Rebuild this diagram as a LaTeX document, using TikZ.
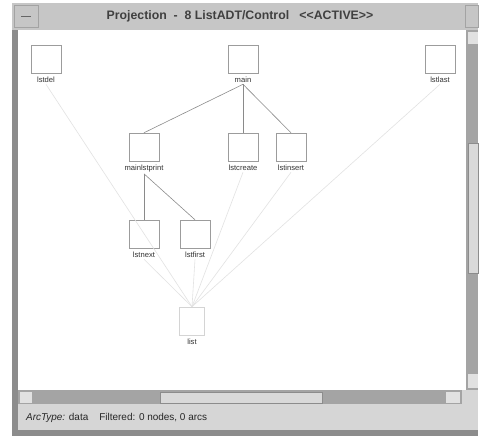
\documentclass[tikz,border=0pt]{standalone}
\usepackage{fontspec}
\setmainfont{Liberation Sans}
\usetikzlibrary{positioning}
\definecolor{wframe}{HTML}{8c8c8c}
\definecolor{wbar}{HTML}{c6c6c6}
\definecolor{wstatus}{HTML}{d6d6d6}
\definecolor{trough}{HTML}{a4a4a4}
\definecolor{thumb}{HTML}{d9d9d9}
\definecolor{boxgray}{HTML}{9c9c9c}
\definecolor{callgray}{HTML}{8a8a8a}
\definecolor{datagray}{HTML}{e2e2e2}

\begin{document}
\begin{tikzpicture}[x=0.3mm, y=-0.3mm,
  fbox/.style={rectangle, draw=boxgray, fill=white, minimum width=9mm,
               minimum height=8.4mm, inner sep=0pt},
  faint/.style={fbox, draw=datagray!80!boxgray, minimum width=7.5mm},
  flabel/.style={font=\fontsize{6.5}{7}\selectfont, text=black!80, inner sep=1pt},
  call/.style={draw=callgray, line width=0.5pt},
  data/.style={draw=datagray, line width=0.5pt},
]
  \useasboundingbox (0,0) rectangle (480,438);
  \fill[white] (0,0) rectangle (480,438);

  % window frame
  \fill[wbar] (12,3) rectangle (478,30);
  \draw[wframe!80] (14,5) rectangle (38,27);
  \draw[black!60, line width=0.8pt] (21,16) -- (31,16);
  \draw[wframe!80] (465,5) rectangle (478,27);
  \node[font=\bfseries\fontsize{10.5}{12}\selectfont, text=black!75] (title) at (240,16)
    {Projection\ \ -\ \ 8 ListADT/Control\ \ \ {<}{<}ACTIVE{>}{>}};
  \fill[wframe] (12,30) rectangle (18,436);
  \fill[wframe] (12,430) rectangle (478,436);
  \fill[wstatus] (18,404) rectangle (478,430);
  \node[anchor=west, font=\fontsize{8.5}{10}\selectfont, text=black!85] (status) at (22,418)
    {\textit{ArcType:} data\ \ \ \ Filtered: 0 nodes, 0 arcs};

  % scrollbars
  \fill[trough] (466,30) rectangle (478,390);
  \fill[thumb] (468,143) rectangle (478,273);
  \draw[black!45] (468,143) rectangle (478,273);
  \fill[thumb!80] (468,32) rectangle (478,44);
  \fill[thumb!80] (468,374) rectangle (478,388);
  \fill[trough] (18,390) rectangle (462,404);
  \fill[thumb] (160,392) rectangle (322,403);
  \draw[black!45] (160,392) rectangle (322,403);
  \fill[thumb!80] (20,392) rectangle (32,403);
  \fill[thumb!80] (446,392) rectangle (460,403);
  \fill[wstatus] (462,390) rectangle (478,404);

  % functions
  \node[fbox] (lstdel)       at (46,59)   {};
  \node[fbox] (main)         at (243,59)  {};
  \node[fbox] (lstlast)      at (440,59)  {};
  \node[fbox] (mainlstprint) at (144,147) {};
  \node[fbox] (lstcreate)    at (243,147) {};
  \node[fbox] (lstinsert)    at (291,147) {};
  \node[fbox] (lstnext)      at (144,234) {};
  \node[fbox] (lstfirst)     at (195,234) {};
  \node[faint] (list)        at (192,321) {};

  \node[flabel, below=0.8mm of lstdel]       (lstdelT)       {lstdel};
  \node[flabel, below=0.8mm of main]         (mainT)         {main};
  \node[flabel, below=0.8mm of lstlast]      (lstlastT)      {lstlast};
  \node[flabel, below=0.8mm of mainlstprint] (mainlstprintT) {mainlstprint};
  \node[flabel, below=0.8mm of lstcreate]    (lstcreateT)    {lstcreate};
  \node[flabel, below=0.8mm of lstinsert]    (lstinsertT)    {lstinsert};
  \node[flabel, below=0.8mm of lstnext]      (lstnextT)      {lstnext};
  \node[flabel, below=0.8mm of lstfirst]     (lstfirstT)     {lstfirst};
  \node[flabel, below=0.8mm of list]         (listT)         {list};

  % data arcs
  \foreach \f in {lstdel, lstlast, lstcreate, lstinsert, lstnext, lstfirst}
    \draw[data] (\f T.south) -- (list.north);

  % calls
  \draw[call] (mainT.south) -- (mainlstprint.north);
  \draw[call] (mainT.south) -- (lstcreate.north);
  \draw[call] (mainT.south) -- (lstinsert.north);
  \draw[call] (mainlstprintT.south) -- (lstnext.north);
  \draw[call] (mainlstprintT.south) -- (lstfirst.north);
\end{tikzpicture}
\end{document}
